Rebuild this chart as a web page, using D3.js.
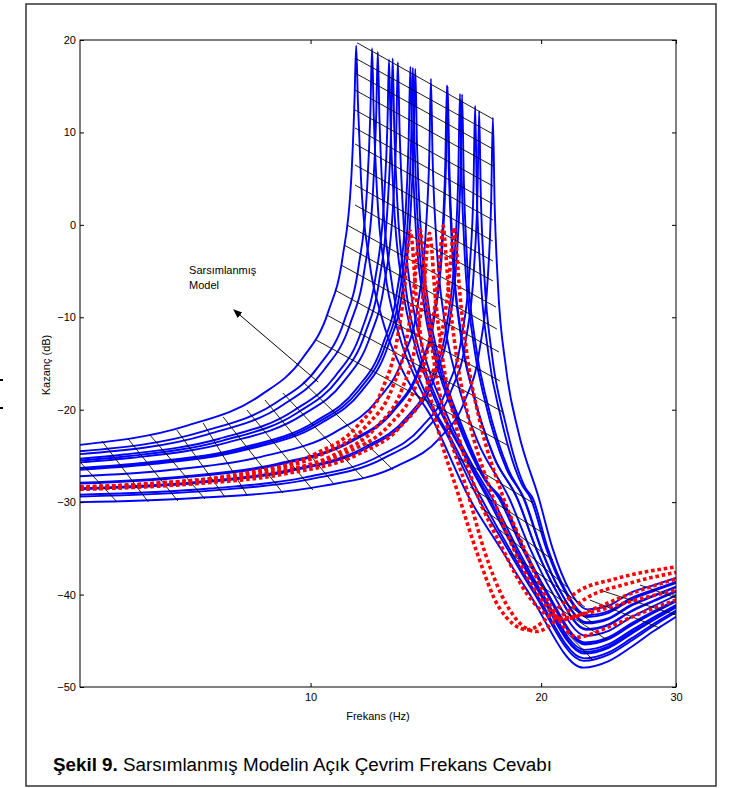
<!DOCTYPE html>
<html>
<head>
<meta charset="utf-8">
<script src="https://cdn.jsdelivr.net/npm/d3@7"></script>
<style>
body { margin: 0; background: #fff; }
svg text { font-family: "Liberation Sans", Arial, sans-serif; }
</style>
</head>
<body>
<script>
// axis ticks
var xTicks = [10, 20, 30];
var yTicks = [-50, -40, -30, -20, -10, 0, 10, 20];

// blue curves: [frequency (Hz), gain (dB)]
var b1 = [[5,-23.8],[6.88,-21.75],[8.6,-18.45],[9.75,-14.49],[10.55,-9.36],[11.01,-3.51],[11.3,4.9],[11.41,13.24],[11.47,19.4],[11.53,13.23],[11.64,4.77],[11.93,-3.87],[12.39,-10.05],[13.19,-15.8],[14.34,-20.63],[16.1,-29.5],[17.7,-35],[19.2,-39.6],[22.7,-47.9],[24.5,-47.2],[26.2,-45.7],[28,-44],[30,-42.4]];
var b2 = [[5,-24.5],[7.22,-22.38],[9.02,-19.21],[10.23,-15.37],[11.07,-10.34],[11.55,-4.56],[11.85,3.8],[11.97,12.12],[12.03,19.1],[12.09,12.09],[12.21,3.61],[12.51,-5.08],[12.99,-11.36],[13.83,-17.32],[15.04,-22.59],[16.53,-29.5],[18.05,-35],[19.5,-39.6],[22.73,-47.17],[24.5,-46.5],[26.2,-45.02],[28,-43.42],[30,-41.91]];
var b3 = [[5,-24.8],[7.34,-22.66],[9.18,-19.54],[10.4,-15.75],[11.26,-10.76],[11.75,-5.0],[12.06,3.35],[12.18,11.66],[12.24,18.7],[12.3,11.62],[12.42,3.13],[12.73,-5.58],[13.22,-11.89],[14.08,-17.93],[15.3,-23.36],[16.69,-29.5],[18.17,-35],[19.61,-39.6],[22.75,-46.9],[24.5,-46.25],[26.2,-44.77],[28,-43.21],[30,-41.74]];
var b4 = [[5,-25.3],[5.7,-24.85],[7.6,-23.14],[9.5,-20.11],[10.76,-16.4],[11.65,-11.48],[12.15,-5.77],[12.47,2.55],[12.6,10.84],[12.66,17.9],[12.72,10.78],[12.85,2.29],[13.17,-6.46],[13.67,-12.85],[14.56,-19.03],[15.83,-24.77],[17.0,-29.5],[18.42,-35],[19.82,-39.6],[22.77,-46.39],[24.5,-45.76],[26.2,-44.28],[28,-42.8],[30,-41.39]];
var b5 = [[5,-25.5],[5.76,-25.04],[7.68,-23.34],[9.6,-20.35],[10.88,-16.66],[11.78,-11.77],[12.29,-6.07],[12.61,2.23],[12.74,10.52],[12.8,18.0],[12.86,10.46],[12.99,1.96],[13.31,-6.8],[13.82,-13.21],[14.72,-19.44],[16.0,-25.28],[17.1,-29.5],[18.5,-35],[19.89,-39.6],[22.78,-46.22],[24.5,-45.6],[26.2,-44.12],[28,-42.67],[30,-41.28]];
var b6 = [[5,-25.7],[5.85,-25.2],[7.8,-23.54],[9.75,-20.59],[11.05,-16.94],[11.96,-12.08],[12.48,-6.41],[12.81,1.88],[12.94,10.16],[13.0,17.6],[13.07,10.09],[13.2,1.59],[13.52,-7.19],[14.04,-13.63],[14.95,-19.93],[16.25,-25.92],[17.24,-29.5],[18.62,-35],[19.99,-39.6],[22.79,-45.98],[24.5,-45.37],[26.2,-43.9],[28,-42.48],[30,-41.12]];
var b7 = [[5,-26.3],[6.08,-25.74],[8.1,-24.15],[10.13,-21.3],[11.48,-17.75],[12.42,-12.97],[12.96,-7.35],[13.3,0.9],[13.43,9.16],[13.5,17.1],[13.57,9.07],[13.7,0.56],[14.04,-8.26],[14.58,-14.78],[15.53,-21.25],[16.88,-27.58],[17.59,-29.5],[18.89,-35],[20.23,-39.6],[22.82,-45.4],[24.5,-44.82],[26.2,-43.36],[28,-42.02],[30,-40.73]];
var b8 = [[5,-26.4],[6.12,-25.83],[8.16,-24.25],[10.2,-21.42],[11.56,-17.89],[12.51,-13.12],[13.06,-7.52],[13.4,0.73],[13.53,8.98],[13.6,17.0],[13.67,8.89],[13.8,0.38],[14.14,-8.46],[14.69,-14.99],[15.64,-21.49],[17.0,-27.89],[17.66,-29.5],[18.95,-35],[20.28,-39.6],[22.82,-45.29],[24.5,-44.71],[26.2,-43.25],[28,-41.93],[30,-40.66]];
var b9 = [[5,-26.5],[6.17,-25.91],[8.22,-24.35],[10.28,-21.54],[11.65,-18.02],[12.6,-13.27],[13.15,-7.68],[13.49,0.56],[13.63,8.81],[13.7,16.9],[13.77,8.72],[13.91,0.2],[14.25,-8.64],[14.8,-15.19],[15.76,-21.72],[17.13,-28.18],[17.72,-29.5],[19.0,-35],[20.32,-39.6],[22.83,-45.18],[24.5,-44.61],[26.2,-43.15],[28,-41.84],[30,-40.59]];
var b10 = [[5,-27.2],[6.46,-26.57],[8.62,-25.1],[10.77,-22.42],[12.21,-19.02],[13.21,-14.37],[13.79,-8.85],[14.14,-0.66],[14.29,7.57],[14.36,15.8],[14.43,7.46],[14.58,-1.08],[14.93,-9.97],[15.51,-16.61],[16.51,-23.35],[18.15,-29.5],[19.34,-35],[20.62,-39.6],[22.86,-44.45],[24.5,-43.92],[26.2,-42.47],[28,-41.27],[30,-40.1]];
var b11 = [[5,-27.9],[6.78,-27.24],[9.04,-25.86],[11.3,-23.32],[12.81,-20.04],[13.86,-15.49],[14.47,-10.04],[14.84,-1.89],[14.99,6.32],[15.07,15.1],[15.15,6.18],[15.3,-2.37],[15.67,-11.32],[16.28,-18.06],[17.33,-25.01],[18.59,-29.5],[19.69,-35],[20.93,-39.6],[22.9,-43.72],[24.5,-43.22],[26.2,-41.78],[28,-40.68],[30,-39.61]];
var b12 = [[5,-28.0],[6.8,-27.34],[9.06,-25.96],[11.32,-23.42],[12.84,-20.14],[13.89,-15.59],[14.5,-10.14],[14.87,-1.99],[15.02,6.22],[15.1,15.0],[15.18,6.08],[15.33,-2.47],[15.7,-11.42],[16.31,-18.16],[17.36,-25.11],[18.62,-29.6],[19.72,-35.1],[20.96,-39.7],[22.9,-43.8],[24.5,-43.3],[26.2,-41.86],[28,-40.75],[30,-39.68]];
var b13 = [[5,-28.5],[7.05,-27.83],[9.4,-26.52],[11.75,-24.09],[13.32,-20.91],[14.42,-16.45],[15.04,-11.05],[15.43,-2.94],[15.59,5.25],[15.67,14.2],[15.75,5.09],[15.9,-3.47],[16.3,-12.46],[16.92,-19.29],[18.02,-26.4],[18.95,-29.5],[19.98,-35],[21.17,-39.6],[22.93,-43.12],[24.5,-42.65],[26.2,-41.22],[28,-40.2],[30,-39.21]];
var b14 = [[5,-28.6],[7.1,-27.93],[9.46,-26.6],[11.83,-24.17],[13.4,-21.0],[14.51,-16.55],[15.14,-11.15],[15.53,-3.04],[15.69,5.15],[15.77,14.1],[15.85,4.99],[16.0,-3.57],[16.4,-12.56],[17.03,-19.39],[18.13,-26.5],[19.0,-29.6],[20.03,-35.1],[21.2,-39.7],[22.94,-43.0],[24.5,-42.55],[26.2,-41.12],[28,-40.12],[30,-39.14]];
var b15 = [[5,-29.2],[7.38,-28.53],[9.84,-27.32],[12.3,-25.01],[13.94,-21.94],[15.09,-17.58],[15.74,-12.24],[16.15,-4.18],[16.32,3.99],[16.4,12.9],[16.48,3.81],[16.65,-4.77],[17.06,-13.81],[17.71,-20.73],[18.86,-28.05],[19.36,-29.5],[20.31,-35],[21.46,-39.6],[22.96,-42.42],[24.5,-41.98],[26.2,-40.57],[28,-39.65],[30,-38.75]];
var b16 = [[5,-29.4],[7.47,-28.73],[9.96,-27.54],[12.45,-25.26],[14.11,-22.23],[15.27,-17.89],[15.94,-12.57],[16.35,-4.52],[16.52,3.64],[16.6,12.3],[16.68,3.46],[16.85,-5.13],[17.26,-14.18],[17.93,-21.13],[19.09,-28.5],[19.48,-29.5],[20.4,-35],[21.54,-39.6],[22.97,-42.23],[24.5,-41.8],[26.2,-40.39],[28,-39.5],[30,-38.62]];
var b17 = [[5,-30],[6.92,-29.6],[10.38,-28.24],[12.98,-26.08],[14.71,-23.15],[15.92,-18.9],[16.61,-13.64],[17.04,-5.63],[17.21,2.51],[17.3,11.6],[17.39,2.31],[17.56,-6.29],[17.99,-15.39],[18.68,-22.42],[19.85,-29.5],[20.7,-35],[21.8,-39.6],[23.0,-41.6],[24.5,-41.2],[26.2,-39.8],[28,-39],[30,-38.2]];

// red dotted curves
var r1 = [[5,-28.45],[6.08,-28.06],[8.1,-26.95],[10.13,-24.79],[11.48,-21.86],[12.42,-17.7],[12.96,-12.6],[13.3,-5.8],[13.43,-1.6],[13.5,-0.7],[13.57,-1.9],[13.7,-6.5],[14.04,-14.3],[14.58,-21.2],[15.53,-28.7],[16.5,-35.5],[17.6,-41.3],[19.2,-43.8],[21,-41.5],[22.2,-39.8],[25,-38.3],[30,-37.0]];
var r2 = [[5,-28.4],[6.26,-27.96],[8.34,-26.85],[10.43,-24.69],[11.82,-21.76],[12.79,-17.6],[13.34,-12.5],[13.69,-5.7],[13.83,-1.5],[13.9,-0.5],[13.97,-1.8],[14.11,-6.4],[14.46,-14.2],[15.01,-21.1],[15.99,-28.6],[16.9,-35.5],[18.0,-41.0],[19.7,-44.0],[21.5,-42.0],[23,-40.3],[26,-38.8],[30,-37.6]];
var r3 = [[5,-28.6],[6.44,-28.16],[8.58,-27.05],[10.73,-24.89],[12.16,-21.96],[13.16,-17.8],[13.73,-12.7],[14.09,-5.9],[14.23,-1.7],[14.3,-0.9],[14.37,-2.0],[14.51,-6.6],[14.87,-14.4],[15.44,-21.3],[16.45,-28.8],[17.8,-35.0],[19.2,-40.0],[21.0,-42.6],[23,-42.0],[26,-40.8],[30,-39.5]];
var r4 = [[5,-28.35],[6.71,-27.86],[8.94,-26.75],[11.18,-24.59],[12.67,-21.66],[13.71,-17.5],[14.3,-12.4],[14.68,-5.6],[14.83,-1.4],[14.9,-0.1],[14.97,-1.7],[15.12,-6.3],[15.5,-14.1],[16.09,-21.0],[17.14,-28.5],[18.4,-35.0],[19.8,-40.0],[21.4,-42.7],[23.5,-41.5],[26,-40.0],[30,-38.3]];
var r5 = [[5,-28.6],[6.93,-28.06],[9.24,-26.95],[11.55,-24.79],[13.09,-21.86],[14.17,-17.7],[14.78,-12.6],[15.17,-5.8],[15.32,-1.6],[15.4,-0.3],[15.48,-1.9],[15.63,-6.5],[16.02,-14.3],[16.63,-21.2],[17.71,-28.7],[19.0,-35.0],[20.5,-41.0],[22.3,-44.6],[24.5,-43.5],[27,-42.0],[30,-40.6]];

// thin black mesh lines: [f1, dB1, f2, dB2]
var meshPeak = [[11.5,19.7,17.3,11.45],[11.43,18.05,17.3,9.83],[11.43,16.43,17.3,8.21],[11.43,14.59,17.3,6.37],[11.43,12.43,17.3,4.2],[11.43,10.48,17.3,2.26],[11.43,8.75,17.3,0.53],[11.43,6.48,17.3,-1.75],[11.43,4.31,17.3,-3.91],[11.43,2.15,17.3,-6.07],[11.16,-0.02,17.46,-8.89],[11.06,-2.18,17.51,-11.27],[10.96,-4.34,17.62,-13.76],[10.76,-7.05,17.67,-16.89],[10.5,-9.75,17.83,-20.25],[10.17,-12.46,18.05,-23.82]];
var meshLow = [[5.0,-25.66,5.59,-29.98],[5.34,-23.38,6.14,-29.98],[5.78,-23.17,6.71,-29.88],[6.17,-22.74,7.28,-29.66],[6.69,-22.2,7.73,-29.44],[7.24,-21.44,8.26,-29.23],[7.69,-20.79,9.2,-29.01],[8.26,-20.03,10.07,-28.69],[8.72,-18.95,10.7,-27.93],[9.2,-18.19,11.71,-27.39],[9.78,-17.0,12.82,-26.52]];
var meshTail = [[15.53,-25.12,19.52,-30.09],[16.15,-28.36,20.11,-33.34],[16.64,-30.52,20.72,-36.26],[17.67,-33.01,21.61,-39.18],[18.21,-35.5,22.81,-41.34],[19.52,-38.42,23.37,-43.07],[20.97,-41.34,24.38,-44.91],[21.61,-44.16,23.37,-47.08],[23.16,-40.59,28.58,-43.62],[23.86,-39.5,30,-42.21],[26.92,-38.96,30,-40.37]];

// annotation: label lines and arrow [from f, from dB, to f, to dB]
var noteLines = ["Sarsımlanmış", "Model"];
var notePos = [6.94, -5.3];
var arrowPos = [10.23, -17.0, 7.94, -9.2];

var width = 733, height = 788;

var svg = d3.select("body").append("svg")
  .attr("width", width)
  .attr("height", height);

var x = d3.scaleLog().domain([5, 30]).range([80, 676]);
var y = d3.scaleLinear().domain([-50, 20]).range([687, 40]);

// outer frame of the figure
svg.append("rect")
  .attr("x", 26).attr("y", 4)
  .attr("width", 690).attr("height", 782)
  .attr("fill", "none")
  .attr("stroke", "#333")
  .attr("stroke-width", 1.5);

// small marks left of the frame
svg.append("rect").attr("x", 0).attr("y", 379).attr("width", 3).attr("height", 2).attr("fill", "#000");
svg.append("rect").attr("x", 0).attr("y", 407).attr("width", 3).attr("height", 2).attr("fill", "#000");

svg.append("defs").append("clipPath").attr("id", "plotclip")
  .append("rect")
  .attr("x", 80).attr("y", 40)
  .attr("width", 596).attr("height", 647);

svg.select("defs").append("marker")
  .attr("id", "arrowhead")
  .attr("viewBox", "0 0 10 10")
  .attr("refX", 9).attr("refY", 5)
  .attr("markerWidth", 9).attr("markerHeight", 9)
  .attr("orient", "auto")
  .append("path")
  .attr("d", "M0,1 L10,5 L0,9 Z")
  .attr("fill", "#000");

var plot = svg.append("g").attr("clip-path", "url(#plotclip)");

var line = d3.line()
  .x(function(d) { return x(d[0]); })
  .y(function(d) { return y(d[1]); })
  .curve(d3.curveMonotoneX);

var blueCurves = [b1, b2, b3, b4, b5, b6, b7, b8, b9, b10, b11, b12, b13, b14, b15, b16, b17];
var redCurves = [r1, r2, r3, r4, r5];
var mesh = meshPeak.concat(meshLow, meshTail);

plot.selectAll(".blue").data(blueCurves).enter().append("path")
  .attr("class", "blue")
  .attr("d", line)
  .attr("fill", "none")
  .attr("stroke", "#0000ff")
  .attr("stroke-width", 1.9);

plot.selectAll(".mesh").data(mesh).enter().append("line")
  .attr("class", "mesh")
  .attr("x1", function(d) { return x(d[0]); })
  .attr("y1", function(d) { return y(d[1]); })
  .attr("x2", function(d) { return x(d[2]); })
  .attr("y2", function(d) { return y(d[3]); })
  .attr("stroke", "#000")
  .attr("stroke-width", 0.9);

plot.selectAll(".red").data(redCurves).enter().append("path")
  .attr("class", "red")
  .attr("d", line)
  .attr("fill", "none")
  .attr("stroke", "#ff0000")
  .attr("stroke-width", 3.6)
  .attr("stroke-dasharray", "3.6,2.8");

// axes, ticks pointing inward like the original
svg.append("g").attr("transform", "translate(0,687)")
  .call(d3.axisBottom(x).tickValues(xTicks).tickFormat(d3.format("d"))
    .tickSizeInner(-4).tickSizeOuter(0).tickPadding(6));
svg.append("g").attr("transform", "translate(0,40)")
  .call(d3.axisTop(x).tickValues(xTicks).tickFormat("")
    .tickSizeInner(-4).tickSizeOuter(0));
svg.append("g").attr("transform", "translate(80,0)")
  .call(d3.axisLeft(y).tickValues(yTicks)
    .tickSizeInner(-4).tickSizeOuter(0).tickPadding(4));
svg.append("g").attr("transform", "translate(676,0)")
  .call(d3.axisRight(y).tickValues(yTicks).tickFormat("")
    .tickSizeInner(-4).tickSizeOuter(0));

svg.selectAll(".domain").remove();
svg.selectAll(".tick line").attr("stroke", "#000");
svg.selectAll(".tick text")
  .attr("fill", "#000")
  .style("font-size", "11px")
  .style("font-family", "'Liberation Sans', Arial, sans-serif");

svg.append("rect")
  .attr("x", 80).attr("y", 40)
  .attr("width", 596).attr("height", 647)
  .attr("fill", "none")
  .attr("stroke", "#000")
  .attr("stroke-width", 1);

// axis titles
svg.append("text")
  .attr("x", 378).attr("y", 720)
  .attr("text-anchor", "middle")
  .style("font-size", "11px")
  .text("Frekans (Hz)");

svg.append("text")
  .attr("transform", "translate(50,365) rotate(-90)")
  .attr("text-anchor", "middle")
  .style("font-size", "11px")
  .text("Kazanç (dB)");

// annotation
var note = svg.append("text")
  .attr("x", x(notePos[0]))
  .attr("y", y(notePos[1]))
  .style("font-size", "11px");
note.selectAll("tspan").data(noteLines).enter().append("tspan")
  .attr("x", x(notePos[0]))
  .attr("dy", function(d, i) { return i === 0 ? 0 : 15; })
  .text(function(d) { return d; });

svg.append("line")
  .attr("x1", x(arrowPos[0])).attr("y1", y(arrowPos[1]))
  .attr("x2", x(arrowPos[2])).attr("y2", y(arrowPos[3]))
  .attr("stroke", "#000")
  .attr("stroke-width", 1)
  .attr("marker-end", "url(#arrowhead)");

// caption
var cap = svg.append("text")
  .attr("x", 53).attr("y", 771)
  .style("font-size", "18.8px");
cap.append("tspan").style("font-weight", "bold").text("Şekil 9.");
cap.append("tspan").text(" Sarsımlanmış Modelin Açık Çevrim Frekans Cevabı");
</script>
</body>
</html>
